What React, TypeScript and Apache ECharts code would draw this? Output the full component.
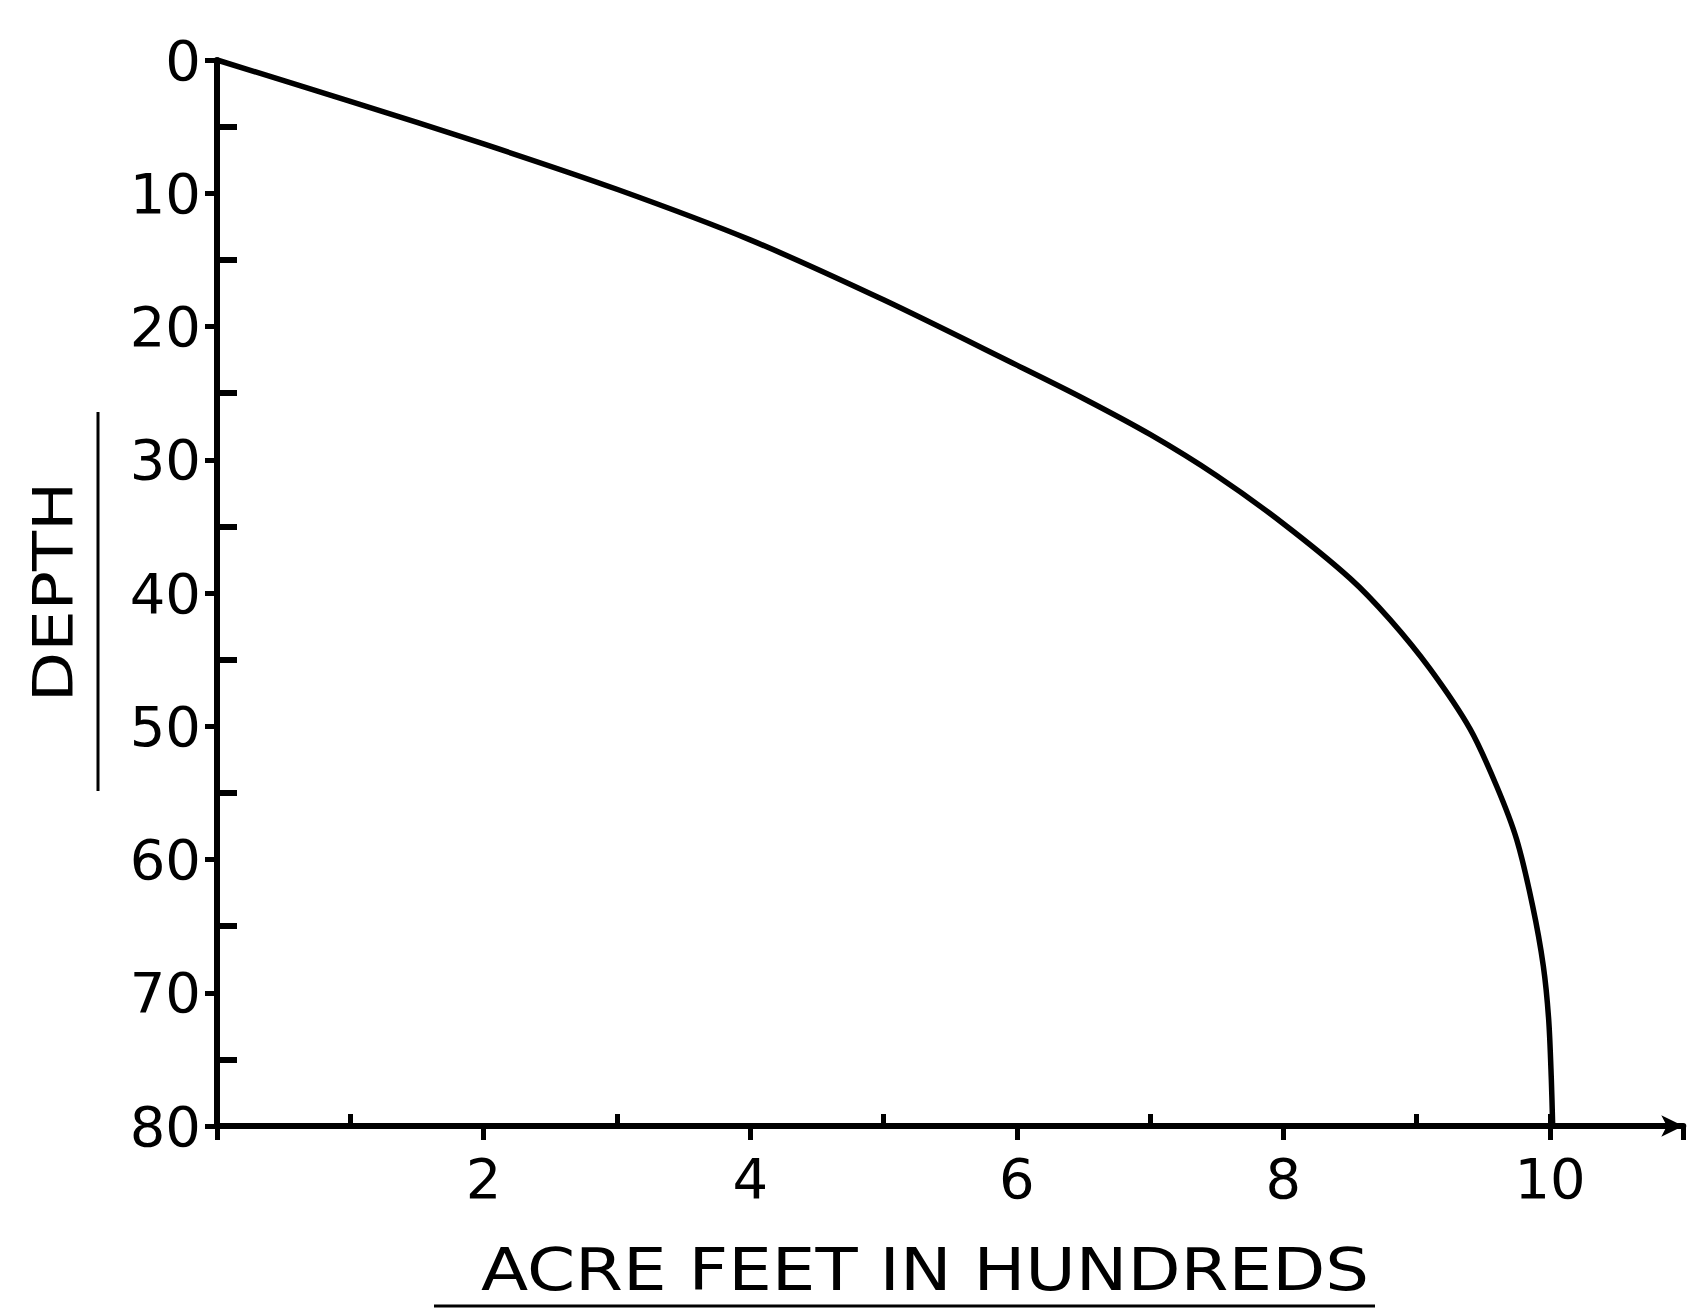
import React, { useEffect, useRef } from "react";
import * as echarts from "echarts";

// Curve: acre-feet (hundreds) vs depth
const acreFeet = [0, 1, 2, 3, 4, 5, 6, 6.5, 7, 7.5, 8, 8.5, 8.8, 9.1, 9.4, 9.6, 9.75, 9.87, 9.95, 9.99, 10.01, 10.02];
const depth = [0, 3.1, 6.3, 9.7, 13.5, 18.0, 22.9, 25.4, 28.1, 31.2, 34.8, 38.9, 42.0, 45.7, 50.2, 54.5, 58.5, 63.5, 68.0, 72.0, 76.5, 80];

const xLabelValues = [2, 4, 6, 8, 10];
const xTitle = "ACRE FEET IN HUNDREDS";
const yTitle = "DEPTH";

const FONT = "DejaVu Sans";

export default function App() {
  const ref = useRef<HTMLDivElement>(null);
  useEffect(() => {
    if (!ref.current) return;
    const chart = echarts.init(ref.current, null, { renderer: "svg" });
    const X0 = 217;
    const PX = 133.3;
    const Y0 = 60;
    const PY = 13.325;
    const BOTTOM = 184;
    const RIGHT = 1700 - X0 - PX * 11;
    chart.setOption({
      animation: false,
      backgroundColor: "#fff",
      grid: [
        { left: X0, right: RIGHT, top: Y0, bottom: BOTTOM },
        { left: X0 + PX, right: 1700 - (X0 + PX * 10), top: Y0, bottom: BOTTOM },
        { left: X0, right: RIGHT, top: Y0 + 5 * PY, bottom: BOTTOM },
      ],
      xAxis: [
        {
          gridIndex: 0,
          type: "value",
          min: 0,
          max: 11,
          interval: 2,
          axisLine: {
            show: true,
            onZero: false,
            symbol: ["none", "arrow"],
            symbolSize: [16, 22],
            lineStyle: { color: "#000", width: 6 },
          },
          axisTick: { show: true, length: 14, lineStyle: { color: "#000", width: 5 } },
          axisLabel: {
            color: "#000",
            fontSize: 56,
            fontFamily: FONT,
            margin: 24,
            formatter: (v: number) => (xLabelValues.includes(v) ? String(v) : ""),
          },
          splitLine: { show: false },
        },
        {
          gridIndex: 1,
          type: "value",
          min: 1,
          max: 10,
          interval: 2,
          axisLine: { show: false, onZero: false },
          axisTick: { show: true, inside: true, length: 12, lineStyle: { color: "#000", width: 5 } },
          axisLabel: { show: false },
          splitLine: { show: false },
        },
        { gridIndex: 2, type: "value", min: 0, max: 11, show: false },
      ],
      yAxis: [
        {
          gridIndex: 0,
          type: "value",
          inverse: true,
          min: 0,
          max: 80,
          interval: 10,
          axisLine: { show: true, onZero: false, lineStyle: { color: "#000", width: 6 } },
          axisTick: { show: true, length: 12, lineStyle: { color: "#000", width: 5 } },
          axisLabel: { color: "#000", fontSize: 56, fontFamily: FONT, margin: 16 },
          splitLine: { show: false },
        },
        { gridIndex: 1, type: "value", inverse: true, min: 0, max: 80, show: false },
        {
          gridIndex: 2,
          type: "value",
          inverse: true,
          min: 5,
          max: 80,
          interval: 10,
          axisLine: { show: false, onZero: false },
          axisTick: { show: true, inside: true, length: 20, lineStyle: { color: "#000", width: 6 } },
          axisLabel: { show: false },
          splitLine: { show: false },
        },
      ],
      series: [
        {
          type: "line",
          xAxisIndex: 0,
          yAxisIndex: 0,
          data: acreFeet.map((x, i) => [x, depth[i]]),
          showSymbol: false,
          smooth: 0.3,
          lineStyle: { color: "#000", width: 5.5 },
          silent: true,
        },
      ],
      graphic: [
        {
          type: "text",
          x: 52,
          y: 592,
          rotation: Math.PI / 2,
          scaleX: 1.17,
          style: {
            text: yTitle,
            fontSize: 56,
            fontFamily: FONT,
            fill: "#000",
            align: "center",
            verticalAlign: "middle",
          },
        },
        {
          type: "line",
          shape: { x1: 98, y1: 412, x2: 98, y2: 791 },
          style: { stroke: "#000", lineWidth: 3 },
        },
        {
          type: "text",
          x: 925,
          y: 1270,
          scaleX: 1.19,
          style: {
            text: xTitle,
            fontSize: 58,
            fontFamily: FONT,
            fill: "#000",
            align: "center",
            verticalAlign: "middle",
          },
        },
        {
          type: "line",
          shape: { x1: 434, y1: 1306, x2: 1375, y2: 1306 },
          style: { stroke: "#000", lineWidth: 3 },
        },
      ],
    });
    return () => chart.dispose();
  }, []);
  return (
    <div
      ref={ref}
      style={{ position: "absolute", left: 0, top: 0, width: 1700, height: 1310, background: "#fff" }}
    />
  );
}
